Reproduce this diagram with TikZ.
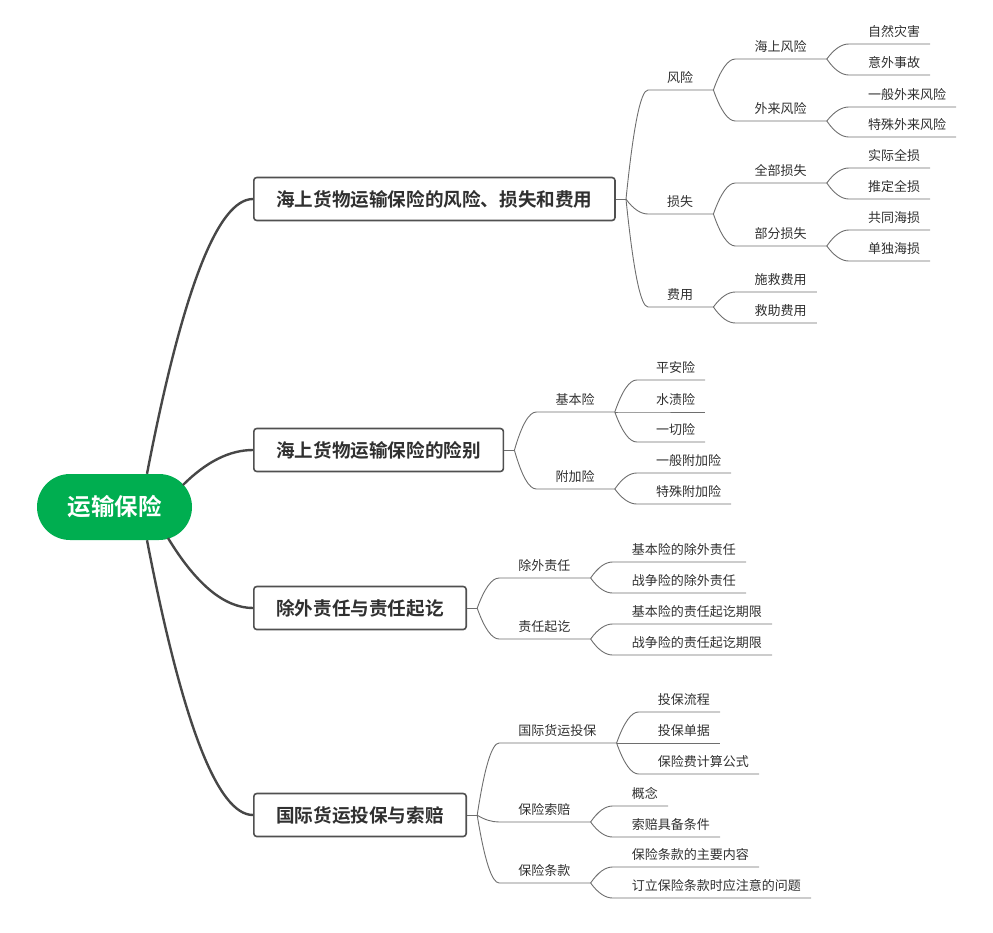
\documentclass[tikz,border=0pt]{standalone}
\usepackage{fontspec}
\setmainfont{Noto Sans CJK SC}[BoldFont={Noto Sans CJK SC Bold}]
\usetikzlibrary{calc}
\definecolor{rootgreen}{RGB}{0,174,80}
\definecolor{boxgray}{HTML}{505050}
\definecolor{textgray}{HTML}{303030}
\definecolor{maingray}{HTML}{474747}
\definecolor{linkgray}{HTML}{6E6E6E}
\tikzset{
  rootnode/.style={fill=rootgreen, rounded corners=33pt, minimum width=155pt, minimum height=66pt, inner sep=0pt, text=white, font=\bfseries\fontsize{23.5}{23.5}\selectfont},
  topic/.style={draw=boxgray, line width=1.6pt, rounded corners=3pt, fill=white, minimum height=43pt, inner xsep=22.5pt, inner ysep=0pt, font=\bfseries\fontsize{18.6}{18.6}\selectfont, text=textgray, anchor=west},
  forkpt/.style={inner sep=0pt, minimum size=0pt},
  sub/.style={inner xsep=10pt, inner ysep=5pt, text height=11pt, text depth=2pt, font=\fontsize{13}{13}\selectfont, text=textgray, anchor=south west},
  mainlink/.style={draw=maingray, line width=2.4pt},
  link/.style={draw=linkgray, line width=0.9pt},
}
\newcommand\padr{\hspace{10pt}\mbox{}}
% #1 child name, #2 parent name, #3 underline y, #4 text
\newcommand\mmsub[4]{%
  \path let \p1=(#2.south east) in ({\x1+31pt},{-#3pt}) node[sub] (#1) {#4};
  \draw[link] let \p1=(#2.south east), \p2=([xshift=-9pt]#1.south west) in
    (\p1) .. controls ({\x1+(\x2-\x1)/3},{\y1+2*(\y2-\y1)/3}) and ({\x2-(\x2-\x1)/3},\y2) .. (\p2) -- (#1.south east);}
% #1 start point, #2 topic name
\newcommand\mmmain[2]{%
  \draw[mainlink] let \p1=(#1), \p2=(#2.west) in
    (\p1) .. controls ({\x1+(\x2-\x1)/3},{\y1+2*(\y2-\y1)/3}) and ({\x2-(\x2-\x1)/3},\y2) .. (\p2);}
\newcommand\mmfork[1]{%
  \node[forkpt] (#1f) at ([xshift=10pt]#1.east) {};
  \draw[link] (#1.east) -- (#1f.center);}
\begin{document}
\begin{tikzpicture}[x=1pt,y=-1pt]
\useasboundingbox (0,0) rectangle (993,932);
% root
\node[rootnode] (root) at (114.5,507) {运输保险};
% main topics
\node[topic] (b1) at (253,199) {海上货物运输保险的风险、损失和费用};
\node[topic] (b2) at (253,450) {海上货物运输保险的险别};
\node[topic] (b3) at (253,608) {除外责任与责任起讫};
\node[topic] (b4) at (253,815) {国际货运投保与索赔};
\coordinate (s1) at ($(root.north)+(32.5,0)$);
\coordinate (s2) at ($(root.center)+(68.5,-22)$);
\coordinate (s3) at ($(root.center)+(53.5,31)$);
\coordinate (s4) at ($(root.south)+(32.5,0)$);
\mmmain{s1}{b1}
\mmmain{s2}{b2}
\mmmain{s3}{b3}
\mmmain{s4}{b4}
\mmfork{b1}\mmfork{b2}\mmfork{b3}\mmfork{b4}
% branch 1
\mmsub{fx}{b1f}{90}{风险\padr}
\mmsub{ss}{b1f}{214}{损失\padr}
\mmsub{fy}{b1f}{307}{费用\padr}
\mmsub{hs}{fx}{59}{海上风险\padr}
\mmsub{wl}{fx}{121}{外来风险\padr}
\mmsub{zr}{hs}{44}{自然灾害}
\mmsub{yw}{hs}{75}{意外事故}
\mmsub{yb}{wl}{107}{一般外来风险}
\mmsub{tw}{wl}{137}{特殊外来风险}
\mmsub{qb}{ss}{183}{全部损失\padr}
\mmsub{bf}{ss}{246}{部分损失\padr}
\mmsub{sj}{qb}{168}{实际全损}
\mmsub{td}{qb}{199}{推定全损}
\mmsub{gt}{bf}{230}{共同海损}
\mmsub{dd}{bf}{261}{单独海损}
\mmsub{sjf}{fy}{292}{施救费用}
\mmsub{jzf}{fy}{323}{救助费用}
% branch 2
\mmsub{jb}{b2f}{412}{基本险\padr}
\mmsub{fj}{b2f}{489}{附加险\padr}
\mmsub{pa}{jb}{380}{平安险}
\mmsub{sz}{jb}{412}{水渍险}
\mmsub{yq}{jb}{442}{一切险}
\mmsub{yf}{fj}{473}{一般附加险}
\mmsub{tf}{fj}{504}{特殊附加险}
% branch 3
\mmsub{cw}{b3f}{578}{除外责任\padr}
\mmsub{zq}{b3f}{639}{责任起讫\padr}
\mmsub{cwa}{cw}{562}{基本险的除外责任}
\mmsub{cwb}{cw}{593}{战争险的除外责任}
\mmsub{zqa}{zq}{624}{基本险的责任起讫期限}
\mmsub{zqb}{zq}{655}{战争险的责任起讫期限}
% branch 4
\mmsub{gj}{b4f}{743}{国际货运投保\padr}
\mmsub{sp}{b4f}{822}{保险索赔\padr}
\mmsub{tk}{b4f}{883}{保险条款\padr}
\mmsub{gja}{gj}{712}{投保流程}
\mmsub{gjb}{gj}{743}{投保单据}
\mmsub{gjc}{gj}{774}{保险费计算公式}
\mmsub{spa}{sp}{806}{概念}
\mmsub{spb}{sp}{837}{索赔具备条件}
\mmsub{tka}{tk}{867}{保险条款的主要内容}
\mmsub{tkb}{tk}{898}{订立保险条款时应注意的问题}
\end{tikzpicture}
\end{document}
